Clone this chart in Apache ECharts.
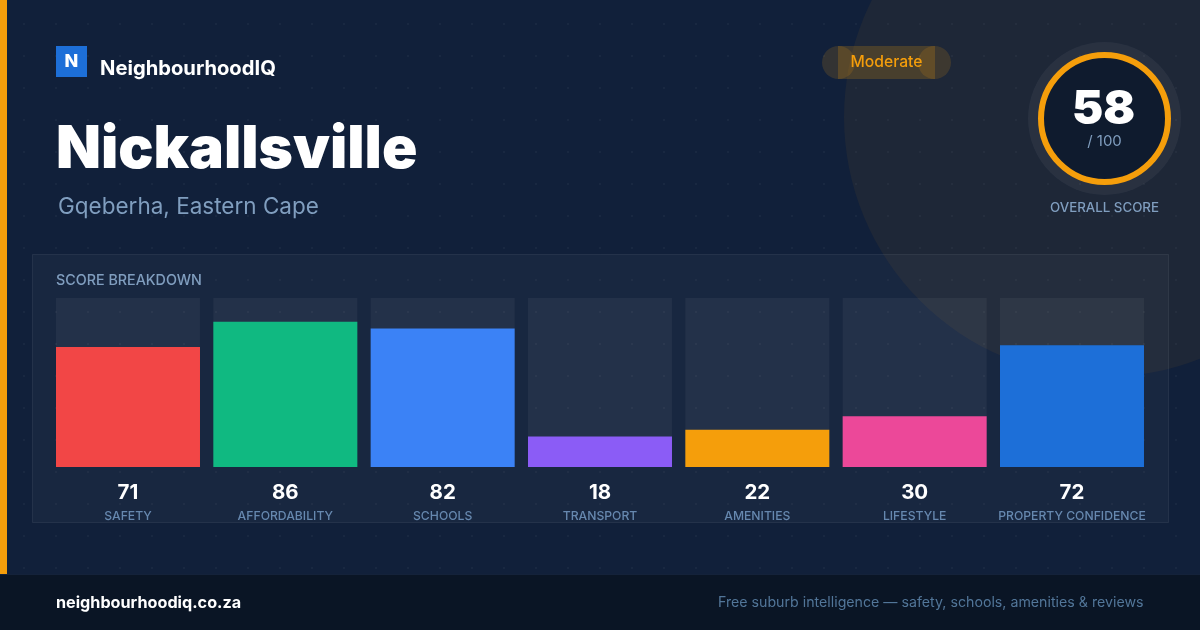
<!DOCTYPE html>
<html>
<head>
<meta charset="utf-8">
<title>Nickallsville</title>
<script src="https://cdn.jsdelivr.net/npm/echarts@6/dist/echarts.min.js"></script>
<style>
  html, body { margin: 0; padding: 0; background: #11203a; }
  #main {
    width: 1200px; height: 630px;
    background-color: #11203a;
    background-image: radial-gradient(circle at 24px 24px, rgba(255,255,255,0.035) 1.2px, transparent 1.5px);
    background-size: 32px 32px;
  }
</style>
</head>
<body>
<div id="main"></div>
<script>
var categories = ['SAFETY', 'AFFORDABILITY', 'SCHOOLS', 'TRANSPORT', 'AMENITIES', 'LIFESTYLE', 'PROPERTY CONFIDENCE'];
var scores = [71, 86, 82, 18, 22, 30, 72];
var barColors = ['#f24646', '#10b981', '#3b82f6', '#8b5cf6', '#f59e0b', '#ec4899', '#1d6fd8'];
var overallScore = 58;
var overallMax = 100;

var inter = 'Inter, sans-serif';

function label(text, x, y, size, weight, color, align) {
  return {
    type: 'text', x: x, y: y, z: 3,
    style: {
      text: text, fill: color, align: align || 'left', verticalAlign: 'middle',
      font: weight + ' ' + size + 'px ' + inter
    }
  };
}

var myChart = echarts.init(document.getElementById('main'));
var option = {
  animation: false,
  backgroundColor: 'transparent',
  graphic: [
    // backdrop
    { type: 'circle', z: 0, shape: { cx: 1104, cy: 117, r: 260 }, style: { fill: 'rgba(245,158,11,0.06)' } },
    { type: 'rect', z: 0, shape: { x: 0, y: 0, width: 7, height: 574 }, style: { fill: '#f59e0b' } },
    { type: 'rect', z: 1, shape: { x: 0, y: 574, width: 1200, height: 56 }, style: { fill: '#0a1525' } },
    { type: 'rect', z: 1, shape: { x: 0, y: 574, width: 1200, height: 1 }, style: { fill: '#14223a' } },

    // header
    { type: 'rect', z: 1, shape: { x: 56, y: 46, width: 31, height: 31 }, style: { fill: '#1d6fd8' } },
    label('N', 71.5, 61.5, 18, 800, '#ffffff', 'center'),
    label('NeighbourhoodIQ', 100, 68.5, 20.2, 700, '#ffffff'),
    label('Nickallsville', 56, 150, 58.5, 900, '#ffffff'),
    label('Gqeberha, Eastern Cape', 58, 207, 22.5, 400, '#809ebf'),

    // badge
    { type: 'circle', z: 1, shape: { cx: 838.5, cy: 62.5, r: 16.5 }, style: { fill: 'rgba(245,158,11,0.15)' } },
    { type: 'circle', z: 1, shape: { cx: 934.5, cy: 62.5, r: 16.5 }, style: { fill: 'rgba(245,158,11,0.15)' } },
    { type: 'rect', z: 1, shape: { x: 838, y: 46, width: 97, height: 33 }, style: { fill: 'rgba(245,158,11,0.2)' } },
    label('Moderate', 886.5, 62, 15.7, 500, '#f59e0b', 'center'),

    // score ring
    { type: 'circle', z: 1, shape: { cx: 1104.5, cy: 118.5, r: 76.5 }, style: { fill: 'rgba(255,255,255,0.05)' } },
    { type: 'circle', z: 1, shape: { cx: 1104.5, cy: 118.5, r: 63.5 }, style: { fill: '#0f1b2e', stroke: '#f59e0b', lineWidth: 6 } },
    label(String(overallScore), 1103.5, 110, 47, 900, '#ffffff', 'center'),
    label('/ ' + overallMax, 1104.5, 141, 15, 400, '#809ebf', 'center'),
    label('OVERALL SCORE', 1104.5, 208, 13.3, 500, '#809ebf', 'center'),

    // breakdown panel
    { type: 'rect', z: 1, shape: { x: 32.5, y: 254.5, width: 1136, height: 268 }, style: { fill: 'rgba(255,255,255,0.03)', stroke: 'rgba(255,255,255,0.07)', lineWidth: 1 } },
    label('SCORE BREAKDOWN', 56, 280.5, 14.3, 500, '#809ebf'),

    // footer
    label('neighbourhoodiq.co.za', 56, 603, 16.2, 700, '#ffffff'),
    label('Free suburb intelligence \u2014 safety, schools, amenities & reviews', 1143.5, 602.5, 14.2, 400, '#527699', 'right')
  ],
  grid: { left: 49.33, top: 298, width: 1101.33, height: 169 },
  xAxis: {
    type: 'category',
    data: categories,
    axisLine: { show: false },
    axisTick: { show: false },
    axisLabel: {
      interval: 0,
      margin: 13,
      formatter: function (name, i) {
        return '{score|' + scores[i] + '}\n{name|' + name + '}';
      },
      rich: {
        score: { fontFamily: inter, fontSize: 20.5, fontWeight: 700, color: '#ffffff', lineHeight: 25 },
        name: { fontFamily: inter, fontSize: 12.2, fontWeight: 500, color: '#6285ad', lineHeight: 23 }
      }
    }
  },
  yAxis: { type: 'value', min: 0, max: 100, show: false },
  series: [
    {
      type: 'bar',
      data: scores,
      barWidth: 144,
      showBackground: true,
      backgroundStyle: { color: 'rgba(255,255,255,0.05)' },
      itemStyle: {
        color: function (p) { return barColors[p.dataIndex]; }
      }
    }
  ]
};
myChart.setOption(option);
</script>
</body>
</html>
